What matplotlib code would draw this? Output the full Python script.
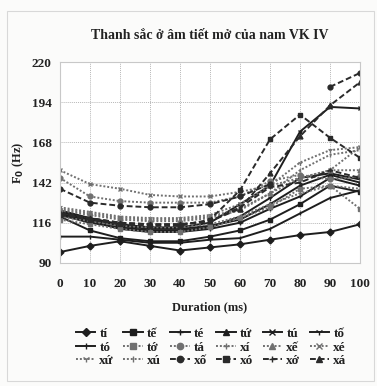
import numpy as np
import matplotlib
matplotlib.use("Agg")
import matplotlib.pyplot as plt
from matplotlib.patches import Rectangle

duration = [0, 10, 20, 30, 40, 50, 60, 70, 80, 90, 100]
y_ticks = [90, 116, 142, 168, 194, 220]

names = ["tí", "tế", "té", "tứ", "tú", "tố",
         "tó", "tớ", "tá", "xí", "xế", "xé",
         "xứ", "xú", "xố", "xó", "xớ", "xá"]

ti  = [97, 101, 104, 101, 98, 100, 102, 105, 108, 110, 115]
te1 = [120, 111, 106, 104, 104, 107, 111, 118, 128, 140, 136]
te2 = [122, 117, 112, 110, 110, 112, 116, 125, 133, 145, 140]
tu1 = [123, 118, 114, 112, 112, 114, 118, 128, 140, 147, 142]
tu2 = [124, 119, 115, 113, 113, 116, 128, 140, 175, 191, 190]
to1 = [121, 116, 113, 111, 111, 113, 120, 132, 145, 148, 144]
to2 = [107, 107, 105, 103, 103, 105, 106, 112, 122, 132, 137]
to3 = [118, 115, 112, 110, 110, 113, 119, 126, 138, 140, 125]
ta  = [145, 133, 130, 129, 129, 129, 133, 143, 147, 144, 146]
xi  = [120, 117, 114, 113, 113, 115, 120, 128, 135, 140, 138]
xe1 = [125, 122, 119, 118, 118, 120, 125, 135, 145, 150, 150]
xe2 = [150, 141, 138, 134, 133, 133, 136, 140, 145, 150, 165]
xu1 = [126, 123, 120, 119, 119, 121, 128, 140, 155, 163, 165]
xu2 = [124, 121, 118, 117, 117, 119, 124, 135, 150, 160, 163]
xo1 = [138, 129, 127, 126, 126, 128, 133, 141, np.nan, 204, 213]
xo2 = [121, 118, 115, 114, 114, 118, 137, 170, 186, 171, 158]
xo3 = [122, 119, 116, 115, 115, 117, 126, 139, 142, 150, 145]
xa  = [122, 119, 116, 115, 115, 117, 125, 148, 172, 192, 207]

series = [ti, te1, te2, tu1, tu2, to1, to2, to3, ta, xi, xe1, xe2,
          xu1, xu2, xo1, xo2, xo3, xa]

markers = ["D", "s", "+", "^", "x", "1", "|",
           "s", "o", "+", "^", "x", "1", "|",
           "o", "s", "+", "^"]
styles = ["-"] * 7 + [(0, (1, 1))] * 7 + [(0, (3, 1.5))] * 4
colors = ["#1e1e1e"] * 7 + ["#707070"] * 7 + ["#2a2a2a"] * 4

serif = ["Liberation Serif", "DejaVu Serif"]

fig = plt.figure(figsize=(3.77, 3.86), dpi=100)
fig.patch.set_facecolor("#fbfbfa")
fig.patches.append(Rectangle((0.018, 0.012), 0.975, 0.96, transform=fig.transFigure,
                             fill=False, edgecolor="#d8d8d8", linewidth=0.8))

ax = fig.add_axes([0.159, 0.319, 0.796, 0.52])
ax.set_facecolor("#ffffff")

handles = []
for s, name, m, ls, c in zip(series, names, markers, styles, colors):
    h, = ax.plot(duration, s, linestyle=ls, color=c, linewidth=1.4,
                 marker=m, markersize=3.5, markeredgewidth=1.0,
                 markerfacecolor=c, markeredgecolor=c, label=name)
    handles.append(h)

ax.set_xlim(0, 100)
ax.set_ylim(90, 220)
ax.set_xticks(duration)
ax.set_yticks(y_ticks)
ax.grid(True, color="#b8b8b8", linestyle=(0, (1, 1)), linewidth=0.7)
for sp in ax.spines.values():
    sp.set_color("#c8c8c8")
    sp.set_linewidth(0.8)
ax.tick_params(axis="y", length=0, pad=6)
ax.tick_params(axis="x", length=0, pad=11)
for lab in ax.get_xticklabels() + ax.get_yticklabels():
    lab.set_fontfamily(serif)
    lab.set_fontweight("bold")
    lab.set_fontsize(9.5)
    lab.set_color("#222222")

ax.set_title("Thanh sắc ở âm tiết mở của nam VK IV", family=serif,
             fontweight="bold", fontsize=10, color="#222222", pad=17)
ax.set_xlabel("Duration (ms)", family=serif, fontweight="bold",
              fontsize=9, color="#222222", labelpad=8)
ax.set_ylabel("F$_\\mathbf{0}$ (Hz)", family=serif, fontweight="bold",
              fontsize=9, color="#222222", labelpad=4)

ncol = 6
nrow = 3
order = [r * ncol + c for c in range(ncol) for r in range(nrow)]
leg = fig.legend([handles[i] for i in order], [names[i] for i in order],
                 loc="center", bbox_to_anchor=(0.56, 0.10), ncol=ncol,
                 frameon=False, handlelength=1.5, handletextpad=0.3,
                 columnspacing=0.7, labelspacing=0.1, markerscale=1.3,
                 prop={"family": serif, "weight": "bold", "size": 9.5})
for t in leg.get_texts():
    t.set_color("#222222")

fig.savefig("out.png", dpi=100, facecolor=fig.get_facecolor())
